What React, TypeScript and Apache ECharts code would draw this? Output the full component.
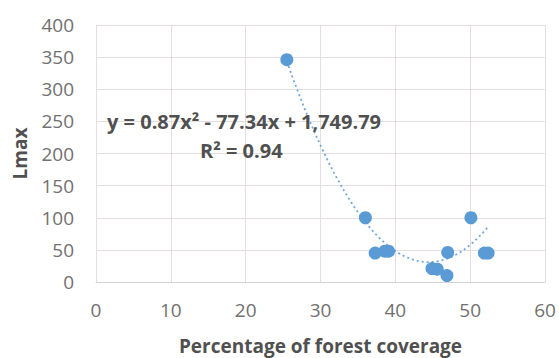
import React, { useEffect, useRef } from "react";
import * as echarts from "echarts";

const forestCoverage = [25.5, 36.0, 37.3, 38.6, 39.1, 44.9, 45.6, 46.9, 47.0, 50.1, 51.9, 52.4];
const lmax = [346, 100, 45, 48, 48, 21, 20, 10, 46, 100, 45, 45];
const trendCoefficients = [0.87, -77.34, 1749.79];
const xTicks = [0, 10, 20, 30, 40, 50, 60];
const yTicks = [0, 50, 100, 150, 200, 250, 300, 350, 400];
const equationText = "y = 0.87x² - 77.34x + 1,749.79";
const r2Text = "R² = 0.94";

export default function App() {
  const ref = useRef<HTMLDivElement>(null);
  useEffect(() => {
    if (!ref.current) return;
    const chart = echarts.init(ref.current, undefined, { renderer: "svg" });
    const [a, b, c] = trendCoefficients;
    const xMin = Math.min(...forestCoverage);
    const xMax = Math.max(...forestCoverage);
    const trend: number[][] = [];
    const n = 60;
    for (let i = 0; i <= n; i++) {
      const x = xMin + ((xMax - xMin) * i) / n;
      trend.push([x, a * x * x + b * x + c]);
    }
    const font = "'Open Sans', sans-serif";
    chart.setOption({
      animation: false,
      backgroundColor: "#ffffff",
      grid: { left: 96, right: 14, top: 25, bottom: 76, containLabel: false, outerBoundsMode: "none" },
      xAxis: {
        type: "value",
        min: xTicks[0],
        max: xTicks[xTicks.length - 1],
        interval: 10,
        axisLine: { show: true, lineStyle: { color: "#d9d3d3", width: 1 } },
        axisTick: { show: false },
        splitLine: { show: true, lineStyle: { color: "#e4dede", width: 1 } },
        axisLabel: { color: "#727070", fontSize: 19, fontFamily: font, margin: 18 },
        name: "Percentage of forest coverage",
        nameLocation: "middle",
        nameGap: 64,
        nameTextStyle: { color: "#505050", fontSize: 19, fontWeight: "bold", fontFamily: font, verticalAlign: "middle" },
      },
      yAxis: {
        type: "value",
        min: yTicks[0],
        max: yTicks[yTicks.length - 1],
        interval: 50,
        axisLine: { show: false },
        axisTick: { show: false },
        splitLine: { show: true, lineStyle: { color: "#e4dede", width: 1 } },
        axisLabel: { color: "#727070", fontSize: 19, fontFamily: font, margin: 22 },
        name: "Lmax",
        nameLocation: "middle",
        nameGap: 76,
        nameRotate: 90,
        nameTextStyle: { color: "#505050", fontSize: 19, fontWeight: "bold", fontFamily: font, verticalAlign: "middle" },
      },
      series: [
        {
          type: "line",
          data: trend,
          showSymbol: false,
          symbol: "none",
          smooth: false,
          lineStyle: { color: "#6fa7dd", width: 1.8, type: [2, 3] },
          z: 1,
        },
        {
          type: "scatter",
          data: forestCoverage.map((x, i) => [x, lmax[i]]),
          symbolSize: 13,
          itemStyle: { color: "#5b9bd5", opacity: 1 },
          z: 2,
        },
      ],
      graphic: [
        {
          type: "text",
          x: 107,
          y: 121,
          z: 10,
          style: { text: equationText, fill: "#505050", fontSize: 20, fontWeight: "bold", fontFamily: font, verticalAlign: "middle" },
        },
        {
          type: "text",
          x: 200,
          y: 150,
          z: 10,
          style: { text: r2Text, fill: "#505050", fontSize: 20, fontWeight: "bold", fontFamily: font, verticalAlign: "middle" },
        },
      ],
    });
    return () => chart.dispose();
  }, []);
  return <div ref={ref} style={{ width: 559, height: 358, position: "absolute", left: 0, top: 0 }} />;
}
